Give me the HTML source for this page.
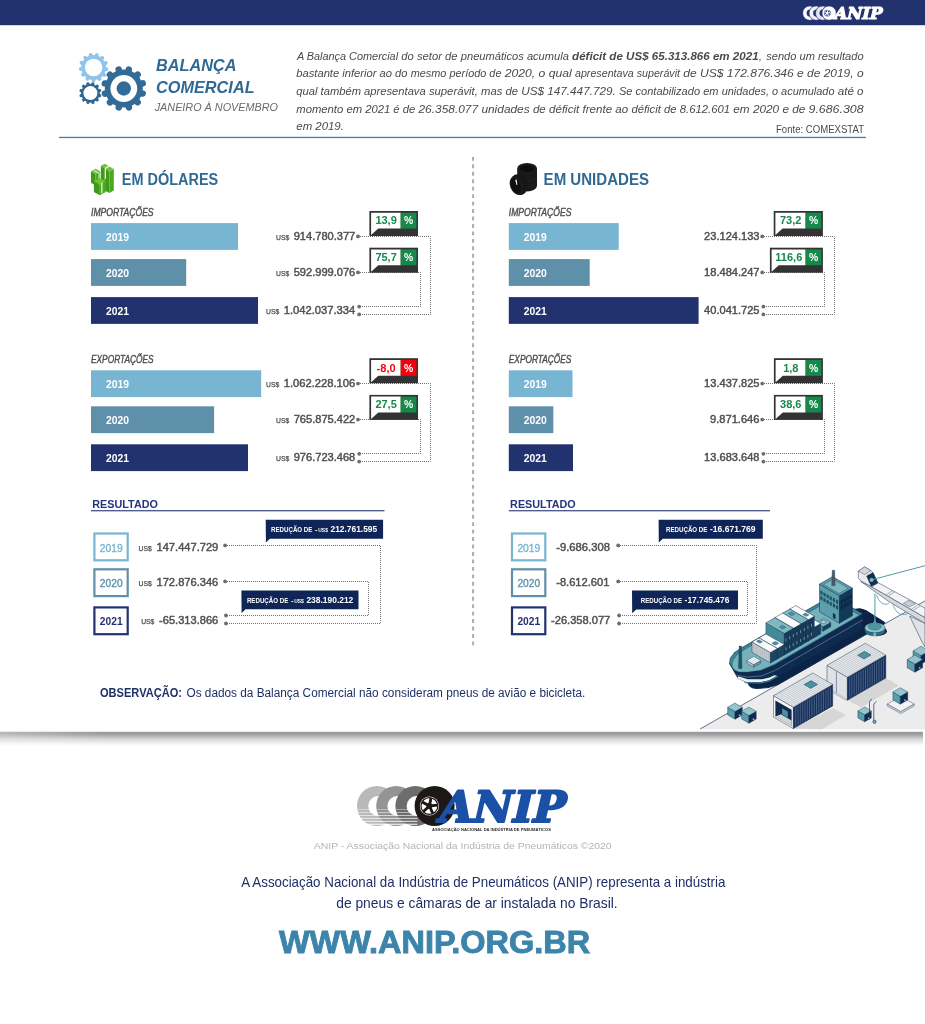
<!DOCTYPE html>
<html lang="pt-BR"><head><meta charset="utf-8"><title>ANIP - Balança Comercial</title>
<style>
html,body{margin:0;padding:0;background:#fff;}
body{width:925px;height:1024px;overflow:hidden;position:relative;font-family:'Liberation Sans', sans-serif;}
svg{position:absolute;left:0;top:0;display:block;font-family:'Liberation Sans', sans-serif;}
svg text{white-space:pre;}
</style></head><body>
<svg width="925" height="1024" viewBox="0 0 925 1024">
<rect x="0" y="0" width="925" height="25.2" fill="#22326e"/>
<g id="gears">
<circle cx="93.6" cy="67.5" r="12.4" fill="#90c4ea"/>
<path d="M104.90,68.98L106.35,69.17M102.92,74.06L104.12,74.90M98.81,77.64L99.47,78.94M93.50,78.90L93.48,80.36M88.21,77.55L87.52,78.83M84.16,73.89L82.95,74.71M82.27,68.77L80.82,68.93M82.98,63.36L81.62,62.83M86.12,58.90L85.16,57.79M90.97,56.41L90.64,54.98M96.43,56.46L96.79,55.04M101.24,59.04L102.22,57.95M104.30,63.56L105.67,63.05" fill="none" stroke="#90c4ea" stroke-width="3.90" stroke-linecap="round"/>
<circle cx="93.6" cy="67.5" r="8.7" fill="#fff"/>
<circle cx="90.4" cy="93.1" r="9.4" fill="#2f6791"/>
<path d="M98.52,95.26L99.73,95.58M96.35,99.03L97.24,99.91M92.59,101.21L92.92,102.42M88.24,101.22L87.92,102.43M84.47,99.05L83.59,99.94M82.29,95.29L81.08,95.62M82.28,90.94L81.07,90.62M84.45,87.17L83.56,86.29M88.21,84.99L87.88,83.78M92.56,84.98L92.88,83.77M96.33,87.15L97.21,86.26M98.51,90.91L99.72,90.58" fill="none" stroke="#2f6791" stroke-width="3.20" stroke-linecap="round"/>
<circle cx="90.4" cy="93.1" r="7.0" fill="#fff"/>
<circle cx="123.8" cy="88.5" r="19.0" fill="#336b96"/>
<path d="M141.20,93.13L142.72,93.53M136.55,101.20L137.67,102.32M128.49,105.88L128.90,107.40M119.17,105.90L118.77,107.42M111.10,101.25L109.98,102.37M106.42,93.19L104.90,93.60M106.40,83.87L104.88,83.47M111.05,75.80L109.93,74.68M119.11,71.12L118.70,69.60M128.43,71.10L128.83,69.58M136.50,75.75L137.62,74.63M141.18,83.81L142.70,83.40" fill="none" stroke="#336b96" stroke-width="6.49" stroke-linecap="round"/>
<circle cx="123.8" cy="88.5" r="13.4" fill="#fff"/>
<circle cx="123.8" cy="88.5" r="7.2" fill="#336b96"/>
</g>
<text x="156" y="71.2" font-size="16.5" fill="#2f6a96" font-weight="bold" font-style="italic" textLength="80.4" lengthAdjust="spacingAndGlyphs">BALANÇA</text>
<text x="156" y="92.7" font-size="16.5" fill="#2f6a96" font-weight="bold" font-style="italic" textLength="98.6" lengthAdjust="spacingAndGlyphs">COMERCIAL</text>
<text x="154.7" y="110.6" font-size="11.4" fill="#6a6a6a" font-style="italic" textLength="123.3" lengthAdjust="spacingAndGlyphs">JANEIRO À NOVEMBRO</text>
<g id="intro" font-style="italic">
<text x="296.9" y="59.6" font-size="11.4" fill="#4a4a4a" font-style="italic" textLength="101.2" lengthAdjust="spacingAndGlyphs">A Balança Comercial</text>
<text x="401.3" y="59.6" font-size="11.4" fill="#4a4a4a" font-style="italic" textLength="56.3" lengthAdjust="spacingAndGlyphs">do setor de</text>
<text x="460.8" y="59.6" font-size="11.4" fill="#4a4a4a" font-style="italic" textLength="108.1" lengthAdjust="spacingAndGlyphs">pneumáticos acumula</text>
<text x="572.1" y="59.6" font-size="11.4" fill="#4a4a4a" font-weight="bold" font-style="italic" textLength="186.5" lengthAdjust="spacingAndGlyphs">déficit de US$ 65.313.866 em 2021</text>
<text x="758.9" y="59.6" font-size="11.4" fill="#4a4a4a" font-style="italic" textLength="2.8" lengthAdjust="spacingAndGlyphs">,</text>
<text x="766.2" y="59.6" font-size="11.4" fill="#4a4a4a" font-style="italic" textLength="97.4" lengthAdjust="spacingAndGlyphs">sendo um resultado</text>
<text x="296.3" y="77.28" font-size="11.4" fill="#4a4a4a" font-style="italic" textLength="111.2" lengthAdjust="spacingAndGlyphs">bastante inferior ao do</text>
<text x="410.7" y="77.28" font-size="11.4" fill="#4a4a4a" font-style="italic" textLength="90.8" lengthAdjust="spacingAndGlyphs">mesmo período de</text>
<text x="504.7" y="77.28" font-size="11.4" fill="#4a4a4a" font-style="italic" textLength="67.1" lengthAdjust="spacingAndGlyphs">2020, o qual</text>
<text x="575.0" y="77.28" font-size="11.4" fill="#4a4a4a" font-style="italic" textLength="105.0" lengthAdjust="spacingAndGlyphs">apresentava superávit</text>
<text x="683.2" y="77.28" font-size="11.4" fill="#4a4a4a" font-style="italic" textLength="110.6" lengthAdjust="spacingAndGlyphs">de US$ 172.876.346</text>
<text x="797.0" y="77.28" font-size="11.4" fill="#4a4a4a" font-style="italic" textLength="66.6" lengthAdjust="spacingAndGlyphs">e de 2019, o</text>
<text x="296.3" y="94.96" font-size="11.4" fill="#4a4a4a" font-style="italic" textLength="129.4" lengthAdjust="spacingAndGlyphs">qual também apresentava</text>
<text x="428.9" y="94.96" font-size="11.4" fill="#4a4a4a" font-style="italic" textLength="89.2" lengthAdjust="spacingAndGlyphs">superávit, mas de</text>
<text x="521.3" y="94.96" font-size="11.4" fill="#4a4a4a" font-style="italic" textLength="94.4" lengthAdjust="spacingAndGlyphs">US$ 147.447.729.</text>
<text x="618.9" y="94.96" font-size="11.4" fill="#4a4a4a" font-style="italic" textLength="99.6" lengthAdjust="spacingAndGlyphs">Se contabilizado em</text>
<text x="721.7" y="94.96" font-size="11.4" fill="#4a4a4a" font-style="italic" textLength="112.8" lengthAdjust="spacingAndGlyphs">unidades, o acumulado</text>
<text x="837.7" y="94.96" font-size="11.4" fill="#4a4a4a" font-style="italic" textLength="25.9" lengthAdjust="spacingAndGlyphs">até o</text>
<text x="296.3" y="112.64" font-size="11.4" fill="#4a4a4a" font-style="italic" textLength="119.0" lengthAdjust="spacingAndGlyphs">momento em 2021 é de</text>
<text x="418.5" y="112.64" font-size="11.4" fill="#4a4a4a" font-style="italic" textLength="111.2" lengthAdjust="spacingAndGlyphs">26.358.077 unidades</text>
<text x="532.9" y="112.64" font-size="11.4" fill="#4a4a4a" font-style="italic" textLength="95.3" lengthAdjust="spacingAndGlyphs">de déficit frente ao</text>
<text x="631.4" y="112.64" font-size="11.4" fill="#4a4a4a" font-style="italic" textLength="98.7" lengthAdjust="spacingAndGlyphs">déficit de 8.612.601</text>
<text x="733.3" y="112.64" font-size="11.4" fill="#4a4a4a" font-style="italic" textLength="72.0" lengthAdjust="spacingAndGlyphs">em 2020 e de</text>
<text x="808.5" y="112.64" font-size="11.4" fill="#4a4a4a" font-style="italic" textLength="55.1" lengthAdjust="spacingAndGlyphs">9.686.308</text>
<text x="296.3" y="130.32" font-size="11.4" fill="#4a4a4a" font-style="italic" textLength="47.6" lengthAdjust="spacingAndGlyphs">em 2019.</text>
</g>
<text x="776" y="133.2" font-size="10" fill="#4a4a4a" textLength="88" lengthAdjust="spacingAndGlyphs">Fonte: COMEXSTAT</text>
<rect x="59" y="136.8" width="807" height="1.3" fill="#3d7eb3"/>
<line x1="473.1" y1="156.9" x2="473.1" y2="645.2" stroke="#ababab" stroke-width="2" stroke-dasharray="3.9 3.555"/>
<text x="121.8" y="185.3" font-size="16" fill="#2f6a96" font-weight="bold" textLength="96.4" lengthAdjust="spacingAndGlyphs">EM DÓLARES</text>
<text x="91" y="215.6" font-size="10" fill="#4f4f4f" font-style="italic" textLength="62.6" lengthAdjust="spacingAndGlyphs" stroke="#4f4f4f" stroke-width="0.4">IMPORTAÇÕES</text>
<rect x="91" y="223.1" width="147" height="26.8" fill="#77b5d3"/>
<text x="106" y="241.0" font-size="10" fill="#fff" font-weight="bold" textLength="23" lengthAdjust="spacingAndGlyphs">2019</text>
<rect x="91" y="259.1" width="95.2" height="26.8" fill="#5f90a9"/>
<text x="106" y="277.0" font-size="10" fill="#fff" font-weight="bold" textLength="23" lengthAdjust="spacingAndGlyphs">2020</text>
<rect x="91" y="297.1" width="167" height="26.8" fill="#22326e"/>
<text x="106" y="315.0" font-size="10" fill="#fff" font-weight="bold" textLength="23" lengthAdjust="spacingAndGlyphs">2021</text>
<text x="293.7" y="240.1" font-size="10.8" fill="#505050" textLength="61.6" lengthAdjust="spacingAndGlyphs" stroke="#505050" stroke-width="0.45">914.780.377</text>
<text x="276" y="240.1" font-size="7.4" fill="#505050" textLength="13.2" lengthAdjust="spacingAndGlyphs" stroke="#505050" stroke-width="0.25">US$</text>
<text x="293.7" y="275.9" font-size="10.8" fill="#505050" textLength="61.6" lengthAdjust="spacingAndGlyphs" stroke="#505050" stroke-width="0.45">592.999.076</text>
<text x="276" y="275.9" font-size="7.4" fill="#505050" textLength="13.2" lengthAdjust="spacingAndGlyphs" stroke="#505050" stroke-width="0.25">US$</text>
<text x="283.7" y="313.7" font-size="10.8" fill="#505050" textLength="71.6" lengthAdjust="spacingAndGlyphs" stroke="#505050" stroke-width="0.45">1.042.037.334</text>
<text x="266" y="313.7" font-size="7.4" fill="#505050" textLength="13.2" lengthAdjust="spacingAndGlyphs" stroke="#505050" stroke-width="0.25">US$</text>
<path d="M358,236.5 H430.5 V314.5 H359.5" fill="none" stroke="#6f6f6f" stroke-width="1" stroke-dasharray="1 1"/>
<path d="M358,272.5 H420.5 V306.5 H359.5" fill="none" stroke="#6f6f6f" stroke-width="1" stroke-dasharray="1 1"/>
<circle cx="358" cy="236.4" r="1.9" fill="#6b6b6b"/>
<circle cx="358" cy="272.4" r="1.9" fill="#6b6b6b"/>
<circle cx="359.2" cy="306.6" r="1.9" fill="#6b6b6b"/>
<circle cx="359.2" cy="314.4" r="1.9" fill="#6b6b6b"/>
<rect x="369.4" y="211.0" width="48.6" height="25.0" fill="#333333"/>
<path d="M371.09999999999997,212.7 H400.7 V228.6 H378.29999999999995 L371.09999999999997,235.0 Z" fill="#fff"/>
<rect x="400.7" y="212.7" width="15.8" height="15.9" fill="#16884a"/>
<text x="386.1" y="224.4" font-size="11" fill="#16884a" font-weight="bold" text-anchor="middle">13,9</text>
<text x="404.0" y="224.4" font-size="10.5" fill="#fff" font-weight="bold" textLength="9.2" lengthAdjust="spacingAndGlyphs">%</text>
<rect x="369.4" y="247.7" width="48.6" height="25.0" fill="#333333"/>
<path d="M371.09999999999997,249.39999999999998 H400.7 V265.3 H378.29999999999995 L371.09999999999997,271.7 Z" fill="#fff"/>
<rect x="400.7" y="249.39999999999998" width="15.8" height="15.9" fill="#16884a"/>
<text x="386.1" y="261.1" font-size="11" fill="#16884a" font-weight="bold" text-anchor="middle">75,7</text>
<text x="404.0" y="261.1" font-size="10.5" fill="#fff" font-weight="bold" textLength="9.2" lengthAdjust="spacingAndGlyphs">%</text>
<text x="91" y="362.8" font-size="10" fill="#4f4f4f" font-style="italic" textLength="62.6" lengthAdjust="spacingAndGlyphs" stroke="#4f4f4f" stroke-width="0.4">EXPORTAÇÕES</text>
<rect x="91" y="370.3" width="170.2" height="26.8" fill="#77b5d3"/>
<text x="106" y="388.2" font-size="10" fill="#fff" font-weight="bold" textLength="23" lengthAdjust="spacingAndGlyphs">2019</text>
<rect x="91" y="406.3" width="123.1" height="26.8" fill="#5f90a9"/>
<text x="106" y="424.2" font-size="10" fill="#fff" font-weight="bold" textLength="23" lengthAdjust="spacingAndGlyphs">2020</text>
<rect x="91" y="444.3" width="157" height="26.8" fill="#22326e"/>
<text x="106" y="462.2" font-size="10" fill="#fff" font-weight="bold" textLength="23" lengthAdjust="spacingAndGlyphs">2021</text>
<text x="283.7" y="387.3" font-size="10.8" fill="#505050" textLength="71.6" lengthAdjust="spacingAndGlyphs" stroke="#505050" stroke-width="0.45">1.062.228.106</text>
<text x="266" y="387.3" font-size="7.4" fill="#505050" textLength="13.2" lengthAdjust="spacingAndGlyphs" stroke="#505050" stroke-width="0.25">US$</text>
<text x="293.7" y="423.1" font-size="10.8" fill="#505050" textLength="61.6" lengthAdjust="spacingAndGlyphs" stroke="#505050" stroke-width="0.45">765.875.422</text>
<text x="276" y="423.1" font-size="7.4" fill="#505050" textLength="13.2" lengthAdjust="spacingAndGlyphs" stroke="#505050" stroke-width="0.25">US$</text>
<text x="293.7" y="460.9" font-size="10.8" fill="#505050" textLength="61.6" lengthAdjust="spacingAndGlyphs" stroke="#505050" stroke-width="0.45">976.723.468</text>
<text x="276" y="460.9" font-size="7.4" fill="#505050" textLength="13.2" lengthAdjust="spacingAndGlyphs" stroke="#505050" stroke-width="0.25">US$</text>
<path d="M358,383.5 H430.5 V461.5 H359.5" fill="none" stroke="#6f6f6f" stroke-width="1" stroke-dasharray="1 1"/>
<path d="M358,419.5 H420.5 V453.5 H359.5" fill="none" stroke="#6f6f6f" stroke-width="1" stroke-dasharray="1 1"/>
<circle cx="358" cy="383.6" r="1.9" fill="#6b6b6b"/>
<circle cx="358" cy="419.6" r="1.9" fill="#6b6b6b"/>
<circle cx="359.2" cy="453.8" r="1.9" fill="#6b6b6b"/>
<circle cx="359.2" cy="461.6" r="1.9" fill="#6b6b6b"/>
<rect x="369.4" y="358.2" width="48.6" height="25.0" fill="#333333"/>
<path d="M371.09999999999997,359.9 H400.7 V375.8 H378.29999999999995 L371.09999999999997,382.2 Z" fill="#fff"/>
<rect x="400.7" y="359.9" width="15.8" height="15.9" fill="#f6000e"/>
<text x="386.1" y="371.6" font-size="11" fill="#f6000e" font-weight="bold" text-anchor="middle">-8,0</text>
<text x="404.0" y="371.6" font-size="10.5" fill="#fff" font-weight="bold" textLength="9.2" lengthAdjust="spacingAndGlyphs">%</text>
<rect x="369.4" y="394.9" width="48.6" height="25.0" fill="#333333"/>
<path d="M371.09999999999997,396.59999999999997 H400.7 V412.5 H378.29999999999995 L371.09999999999997,418.9 Z" fill="#fff"/>
<rect x="400.7" y="396.59999999999997" width="15.8" height="15.9" fill="#16884a"/>
<text x="386.1" y="408.3" font-size="11" fill="#16884a" font-weight="bold" text-anchor="middle">27,5</text>
<text x="404.0" y="408.3" font-size="10.5" fill="#fff" font-weight="bold" textLength="9.2" lengthAdjust="spacingAndGlyphs">%</text>
<text x="543.6" y="185.3" font-size="16" fill="#2f6a96" font-weight="bold" textLength="105.4" lengthAdjust="spacingAndGlyphs">EM UNIDADES</text>
<text x="508.8" y="215.6" font-size="10" fill="#4f4f4f" font-style="italic" textLength="62.6" lengthAdjust="spacingAndGlyphs" stroke="#4f4f4f" stroke-width="0.4">IMPORTAÇÕES</text>
<rect x="508.8" y="223.1" width="109.9" height="26.8" fill="#77b5d3"/>
<text x="523.8" y="241.0" font-size="10" fill="#fff" font-weight="bold" textLength="23" lengthAdjust="spacingAndGlyphs">2019</text>
<rect x="508.8" y="259.1" width="80.9" height="26.8" fill="#5f90a9"/>
<text x="523.8" y="277.0" font-size="10" fill="#fff" font-weight="bold" textLength="23" lengthAdjust="spacingAndGlyphs">2020</text>
<rect x="508.8" y="297.1" width="189.8" height="26.8" fill="#22326e"/>
<text x="523.8" y="315.0" font-size="10" fill="#fff" font-weight="bold" textLength="23" lengthAdjust="spacingAndGlyphs">2021</text>
<text x="704.1" y="240.1" font-size="10.8" fill="#505050" textLength="55.4" lengthAdjust="spacingAndGlyphs" stroke="#505050" stroke-width="0.45">23.124.133</text>
<text x="704.1" y="275.9" font-size="10.8" fill="#505050" textLength="55.4" lengthAdjust="spacingAndGlyphs" stroke="#505050" stroke-width="0.45">18.484.247</text>
<text x="704.1" y="313.7" font-size="10.8" fill="#505050" textLength="55.4" lengthAdjust="spacingAndGlyphs" stroke="#505050" stroke-width="0.45">40.041.725</text>
<path d="M762,236.5 H834.5 V314.5 H763.5" fill="none" stroke="#6f6f6f" stroke-width="1" stroke-dasharray="1 1"/>
<path d="M762,272.5 H824.5 V306.5 H763.5" fill="none" stroke="#6f6f6f" stroke-width="1" stroke-dasharray="1 1"/>
<circle cx="762.2" cy="236.4" r="1.9" fill="#6b6b6b"/>
<circle cx="762.2" cy="272.4" r="1.9" fill="#6b6b6b"/>
<circle cx="763.4000000000001" cy="306.6" r="1.9" fill="#6b6b6b"/>
<circle cx="763.4000000000001" cy="314.4" r="1.9" fill="#6b6b6b"/>
<rect x="773.7" y="211.0" width="49.2" height="25.0" fill="#333333"/>
<path d="M775.4000000000001,212.7 H805.6 V228.6 H782.6 L775.4000000000001,235.0 Z" fill="#fff"/>
<rect x="805.6" y="212.7" width="15.8" height="15.9" fill="#16884a"/>
<text x="790.7" y="224.4" font-size="11" fill="#16884a" font-weight="bold" text-anchor="middle">73,2</text>
<text x="808.9" y="224.4" font-size="10.5" fill="#fff" font-weight="bold" textLength="9.2" lengthAdjust="spacingAndGlyphs">%</text>
<rect x="769.9" y="247.7" width="53.0" height="25.0" fill="#333333"/>
<path d="M771.6,249.39999999999998 H805.6 V265.3 H778.8 L771.6,271.7 Z" fill="#fff"/>
<rect x="805.6" y="249.39999999999998" width="15.8" height="15.9" fill="#16884a"/>
<text x="788.8" y="261.1" font-size="11" fill="#16884a" font-weight="bold" text-anchor="middle">116,6</text>
<text x="808.9" y="261.1" font-size="10.5" fill="#fff" font-weight="bold" textLength="9.2" lengthAdjust="spacingAndGlyphs">%</text>
<text x="508.8" y="362.8" font-size="10" fill="#4f4f4f" font-style="italic" textLength="62.6" lengthAdjust="spacingAndGlyphs" stroke="#4f4f4f" stroke-width="0.4">EXPORTAÇÕES</text>
<rect x="508.8" y="370.3" width="63.7" height="26.8" fill="#77b5d3"/>
<text x="523.8" y="388.2" font-size="10" fill="#fff" font-weight="bold" textLength="23" lengthAdjust="spacingAndGlyphs">2019</text>
<rect x="508.8" y="406.3" width="44.5" height="26.8" fill="#5f90a9"/>
<text x="523.8" y="424.2" font-size="10" fill="#fff" font-weight="bold" textLength="23" lengthAdjust="spacingAndGlyphs">2020</text>
<rect x="508.8" y="444.3" width="64.2" height="26.8" fill="#22326e"/>
<text x="523.8" y="462.2" font-size="10" fill="#fff" font-weight="bold" textLength="23" lengthAdjust="spacingAndGlyphs">2021</text>
<text x="704.1" y="387.3" font-size="10.8" fill="#505050" textLength="55.4" lengthAdjust="spacingAndGlyphs" stroke="#505050" stroke-width="0.45">13.437.825</text>
<text x="710.0" y="423.1" font-size="10.8" fill="#505050" textLength="49.5" lengthAdjust="spacingAndGlyphs" stroke="#505050" stroke-width="0.45">9.871.646</text>
<text x="704.1" y="460.9" font-size="10.8" fill="#505050" textLength="55.4" lengthAdjust="spacingAndGlyphs" stroke="#505050" stroke-width="0.45">13.683.648</text>
<path d="M762,383.5 H834.5 V461.5 H763.5" fill="none" stroke="#6f6f6f" stroke-width="1" stroke-dasharray="1 1"/>
<path d="M762,419.5 H824.5 V453.5 H763.5" fill="none" stroke="#6f6f6f" stroke-width="1" stroke-dasharray="1 1"/>
<circle cx="762.2" cy="383.6" r="1.9" fill="#6b6b6b"/>
<circle cx="762.2" cy="419.6" r="1.9" fill="#6b6b6b"/>
<circle cx="763.4000000000001" cy="453.8" r="1.9" fill="#6b6b6b"/>
<circle cx="763.4000000000001" cy="461.6" r="1.9" fill="#6b6b6b"/>
<rect x="773.9" y="358.2" width="49.0" height="25.0" fill="#333333"/>
<path d="M775.6,359.9 H805.6 V375.8 H782.8 L775.6,382.2 Z" fill="#fff"/>
<rect x="805.6" y="359.9" width="15.8" height="15.9" fill="#16884a"/>
<text x="790.8" y="371.6" font-size="11" fill="#16884a" font-weight="bold" text-anchor="middle">1,8</text>
<text x="808.9" y="371.6" font-size="10.5" fill="#fff" font-weight="bold" textLength="9.2" lengthAdjust="spacingAndGlyphs">%</text>
<rect x="773.9" y="394.9" width="49.0" height="25.0" fill="#333333"/>
<path d="M775.6,396.59999999999997 H805.6 V412.5 H782.8 L775.6,418.9 Z" fill="#fff"/>
<rect x="805.6" y="396.59999999999997" width="15.8" height="15.9" fill="#16884a"/>
<text x="790.8" y="408.3" font-size="11" fill="#16884a" font-weight="bold" text-anchor="middle">38,6</text>
<text x="808.9" y="408.3" font-size="10.5" fill="#fff" font-weight="bold" textLength="9.2" lengthAdjust="spacingAndGlyphs">%</text>
<text x="92.3" y="507.8" font-size="11.5" fill="#25357a" font-weight="bold" textLength="65.6" lengthAdjust="spacingAndGlyphs">RESULTADO</text>
<rect x="91" y="510.2" width="293.5" height="1.1" fill="#25357a"/>
<rect x="94.39999999999999" y="533.5" width="33.3" height="26.8" fill="#fff" stroke="#77b5d3" stroke-width="2.2"/>
<text x="99.8" y="551.5" font-size="10.6" fill="#77b5d3" textLength="22.8" lengthAdjust="spacingAndGlyphs" stroke="#77b5d3" stroke-width="0.35">2019</text>
<rect x="94.39999999999999" y="569.3000000000001" width="33.3" height="26.8" fill="#fff" stroke="#5f90a9" stroke-width="2.2"/>
<text x="99.8" y="587.3" font-size="10.6" fill="#5f90a9" textLength="22.8" lengthAdjust="spacingAndGlyphs" stroke="#5f90a9" stroke-width="0.35">2020</text>
<rect x="94.39999999999999" y="607.4" width="33.3" height="26.8" fill="#fff" stroke="#22326e" stroke-width="2.2"/>
<text x="99.8" y="625.4" font-size="10.6" fill="#22326e" font-weight="bold" textLength="22.8" lengthAdjust="spacingAndGlyphs">2021</text>
<text x="156.5" y="550.5" font-size="10.8" fill="#505050" textLength="61.8" lengthAdjust="spacingAndGlyphs" stroke="#505050" stroke-width="0.45">147.447.729</text>
<text x="138.6" y="550.5" font-size="7.4" fill="#505050" textLength="13.2" lengthAdjust="spacingAndGlyphs" stroke="#505050" stroke-width="0.25">US$</text>
<text x="156.5" y="586.3" font-size="10.8" fill="#505050" textLength="61.8" lengthAdjust="spacingAndGlyphs" stroke="#505050" stroke-width="0.45">172.876.346</text>
<text x="138.6" y="586.3" font-size="7.4" fill="#505050" textLength="13.2" lengthAdjust="spacingAndGlyphs" stroke="#505050" stroke-width="0.25">US$</text>
<text x="159.0" y="624.0" font-size="10.8" fill="#505050" textLength="59.3" lengthAdjust="spacingAndGlyphs" stroke="#505050" stroke-width="0.45">-65.313.866</text>
<text x="141.2" y="624.0" font-size="7.4" fill="#505050" textLength="13.2" lengthAdjust="spacingAndGlyphs" stroke="#505050" stroke-width="0.25">US$</text>
<path d="M225,545.5 H380.5 V623.5 H226.5" fill="none" stroke="#6f6f6f" stroke-width="1" stroke-dasharray="1 1"/>
<path d="M225,581.5 H368.5 V615.5 H226.5" fill="none" stroke="#6f6f6f" stroke-width="1" stroke-dasharray="1 1"/>
<circle cx="225.1" cy="545.4" r="1.9" fill="#6b6b6b"/>
<circle cx="225.1" cy="581.4" r="1.9" fill="#6b6b6b"/>
<circle cx="226.0" cy="615.5" r="1.9" fill="#6b6b6b"/>
<circle cx="226.0" cy="623.5" r="1.9" fill="#6b6b6b"/>
<path d="M265.7,519.8 H383.1 V538.6999999999999 H269.9 L265.9,542.4 Z" fill="#0f2557"/>
<text x="271" y="532.0" font-size="7.4" fill="#fff" font-weight="bold" textLength="41.4" lengthAdjust="spacingAndGlyphs">REDUÇÃO DE</text>
<text x="315.0" y="532.0" font-size="7.4" fill="#fff" font-weight="bold">-</text>
<text x="318.3" y="532.0" font-size="5.4" fill="#fff" font-weight="bold" textLength="9.6" lengthAdjust="spacingAndGlyphs">US$</text>
<text x="330.5" y="532.0" font-size="8.8" fill="#fff" font-weight="bold" textLength="46.7" lengthAdjust="spacingAndGlyphs">212.761.595</text>
<path d="M241.4,590.4 H358.5 V609.3 H245.6 L241.6,613.0 Z" fill="#0f2557"/>
<text x="246.9" y="602.6" font-size="7.4" fill="#fff" font-weight="bold" textLength="41.4" lengthAdjust="spacingAndGlyphs">REDUÇÃO DE</text>
<text x="290.9" y="602.6" font-size="7.4" fill="#fff" font-weight="bold">-</text>
<text x="294.2" y="602.6" font-size="5.4" fill="#fff" font-weight="bold" textLength="9.6" lengthAdjust="spacingAndGlyphs">US$</text>
<text x="306.4" y="602.6" font-size="8.8" fill="#fff" font-weight="bold" textLength="46.9" lengthAdjust="spacingAndGlyphs">238.190.212</text>
<text x="510.1" y="507.8" font-size="11.5" fill="#25357a" font-weight="bold" textLength="65.6" lengthAdjust="spacingAndGlyphs">RESULTADO</text>
<rect x="508.8" y="510.2" width="261.2" height="1.1" fill="#25357a"/>
<rect x="512.0" y="533.5" width="33.3" height="26.8" fill="#fff" stroke="#77b5d3" stroke-width="2.2"/>
<text x="517.4" y="551.5" font-size="10.6" fill="#77b5d3" textLength="22.8" lengthAdjust="spacingAndGlyphs" stroke="#77b5d3" stroke-width="0.35">2019</text>
<rect x="512.0" y="569.3000000000001" width="33.3" height="26.8" fill="#fff" stroke="#5f90a9" stroke-width="2.2"/>
<text x="517.4" y="587.3" font-size="10.6" fill="#5f90a9" textLength="22.8" lengthAdjust="spacingAndGlyphs" stroke="#5f90a9" stroke-width="0.35">2020</text>
<rect x="512.0" y="607.4" width="33.3" height="26.8" fill="#fff" stroke="#22326e" stroke-width="2.2"/>
<text x="517.4" y="625.4" font-size="10.6" fill="#22326e" font-weight="bold" textLength="22.8" lengthAdjust="spacingAndGlyphs">2021</text>
<text x="556.2" y="550.5" font-size="10.8" fill="#505050" textLength="53.7" lengthAdjust="spacingAndGlyphs" stroke="#505050" stroke-width="0.45">-9.686.308</text>
<text x="556.2" y="586.3" font-size="10.8" fill="#505050" textLength="53.2" lengthAdjust="spacingAndGlyphs" stroke="#505050" stroke-width="0.45">-8.612.601</text>
<text x="551.0" y="624.0" font-size="10.8" fill="#505050" textLength="59.3" lengthAdjust="spacingAndGlyphs" stroke="#505050" stroke-width="0.45">-26.358.077</text>
<path d="M618,545.5 H756.5 V623.5 H619.5" fill="none" stroke="#6f6f6f" stroke-width="1" stroke-dasharray="1 1"/>
<path d="M618,581.5 H747.5 V615.5 H619.5" fill="none" stroke="#6f6f6f" stroke-width="1" stroke-dasharray="1 1"/>
<circle cx="618.2" cy="545.4" r="1.9" fill="#6b6b6b"/>
<circle cx="618.2" cy="581.4" r="1.9" fill="#6b6b6b"/>
<circle cx="619.1" cy="615.5" r="1.9" fill="#6b6b6b"/>
<circle cx="619.1" cy="623.5" r="1.9" fill="#6b6b6b"/>
<path d="M658.6,519.8 H762.8 V538.6999999999999 H662.8000000000001 L658.8000000000001,542.4 Z" fill="#0f2557"/>
<text x="666" y="532.0" font-size="7.4" fill="#fff" font-weight="bold" textLength="41.4" lengthAdjust="spacingAndGlyphs">REDUÇÃO DE</text>
<text x="710.0" y="532.0" font-size="8.8" fill="#fff" font-weight="bold" textLength="45.6" lengthAdjust="spacingAndGlyphs">-16.671.769</text>
<path d="M632.0,590.6 H738.0 V609.5 H636.2 L632.2,613.2 Z" fill="#0f2557"/>
<text x="640.7" y="602.8" font-size="7.4" fill="#fff" font-weight="bold" textLength="41.4" lengthAdjust="spacingAndGlyphs">REDUÇÃO DE</text>
<text x="684.6" y="602.8" font-size="8.8" fill="#fff" font-weight="bold" textLength="44.7" lengthAdjust="spacingAndGlyphs">-17.745.476</text>
<text x="100" y="697.3" font-size="12" fill="#1f2f68" font-weight="bold" textLength="82" lengthAdjust="spacingAndGlyphs">OBSERVAÇÃO:</text>
<text x="186.5" y="697.3" font-size="12" fill="#1f2f68" textLength="398.8" lengthAdjust="spacingAndGlyphs">Os dados da Balança Comercial não consideram pneus de avião e bicicleta.</text>
<g id="porto">
<polygon points="700.2,728.9 925.0,600.9 925.0,729.4 700.2,729.4" fill="#ececec"/>
<line x1="700.2" y1="728.9" x2="925" y2="600.9" stroke="#223a5e" stroke-width="0.7"/>
<path d="M746.5,679.5 L749.5,686 Q752,688.6 757,688.4 L768,687.6 L778,684.5 L884.6,623.5 L884.9,622.6 L866,610.6 Q860,607.6 855.6,609.2 L852,612 L780,672 Z" fill="#0b2346" stroke="#0b2346" stroke-width="1" stroke-linejoin="round"/>
<polygon points="862.8,613.8 775.4,664.3 761.5,670.0 747.7,671.1 737.7,669.8 732.5,667.4 729.5,663.4 737.7,678.0 748.5,683.3 761.5,683.3 774.1,678.9 861.5,629.5" fill="#0f2a4f" stroke="#0f2a4f" stroke-width="0.6" stroke-linejoin="round"/>
<polygon points="738.1,676.3 747.7,679.3 761.5,679.3 769.5,677.4 774.3,675.3 776.9,675.7 769.1,680.3 760.8,682.1 746.8,682.3 737.3,678.3" fill="#eef1f2"/>
<polygon points="743.8,682.2 760.8,682.3 769.1,680.5 776.9,675.9 778.6,676.4 768.8,681.7 760.3,683.6 745.5,683.3" fill="#3d7f8e"/>
<polyline points="736.6,675.2 747.7,677.1 761.8,675.8 775.4,670.3 862.8,619.8" fill="none" stroke="#8fa9bd" stroke-width="0.5"/>
<polygon points="831.7,595.8 862.8,613.8 775.4,664.3 761.5,670.0 747.7,671.1 737.7,669.8 732.5,667.4 729.5,663.4 730.4,657.9 734.7,652.3 744.2,646.3" fill="#3f8593" stroke="#0f2a4f" stroke-width="0.6" stroke-linejoin="round"/>
<polygon points="831.7,599.2 859.4,615.2 773.6,664.7 760.7,670.2 747.8,672.1 739.2,672.1 734.6,670.2 732.1,666.7 732.7,661.0 736.8,654.9 745.9,648.7" fill="#74b3bb" stroke="#1d5565" stroke-width="0.4" stroke-linejoin="round"/>
<polygon points="738.5,668.6 742.0,668.6 741.5,646.1 739.2,646.1" fill="#1f5566" stroke="#0f2a4f" stroke-width="0.3" stroke-linejoin="round"/>
<polygon points="753.7,667.2 746.8,663.2 746.8,660.6 753.7,664.6" fill="#b9c3c8" stroke="#0f2a4f" stroke-width="0.35" stroke-linejoin="round"/>
<polygon points="753.7,667.2 760.7,663.2 760.7,660.6 753.7,664.6" fill="#7d9098" stroke="#0f2a4f" stroke-width="0.35" stroke-linejoin="round"/>
<polygon points="753.7,664.6 760.7,660.6 753.7,656.6 746.8,660.6" fill="#f4f6f6" stroke="#0f2a4f" stroke-width="0.35" stroke-linejoin="round"/>
<line x1="755.5" y1="663.6" x2="748.5" y2="659.6" stroke="#8ea0aa" stroke-width="0.3"/>
<line x1="757.2" y1="662.6" x2="750.3" y2="658.6" stroke="#8ea0aa" stroke-width="0.3"/>
<line x1="758.9" y1="661.6" x2="752.0" y2="657.6" stroke="#8ea0aa" stroke-width="0.3"/>
<polygon points="839.4,623.3 819.5,611.8 819.5,584.1 839.4,595.6" fill="#5c9faa" stroke="#0f2a4f" stroke-width="0.5" stroke-linejoin="round"/>
<polygon points="839.4,623.3 852.4,615.8 852.4,588.1 839.4,595.6" fill="#143857" stroke="#0f2a4f" stroke-width="0.5" stroke-linejoin="round"/>
<polygon points="839.4,595.6 852.4,588.1 832.5,576.6 819.5,584.1" fill="#5da0ab" stroke="#0f2a4f" stroke-width="0.5" stroke-linejoin="round"/>
<polygon points="823.4,584.5 832.8,579.1 848.4,588.1 839.0,593.5" fill="#7db7bf" stroke="#0f2a4f" stroke-width="0.35" stroke-linejoin="round"/>
<polygon points="838.1,600.6 835.9,599.3 835.9,603.0 838.1,604.3" fill="#1d5263"/>
<polygon points="835.0,598.8 832.8,597.5 832.8,601.2 835.0,602.5" fill="#1d5263"/>
<polygon points="831.8,597.0 829.6,595.7 829.6,599.4 831.8,600.7" fill="#1d5263"/>
<polygon points="828.7,595.2 826.5,593.9 826.5,597.6 828.7,598.9" fill="#1d5263"/>
<polygon points="825.6,593.4 823.4,592.1 823.4,595.8 825.6,597.1" fill="#1d5263"/>
<polygon points="822.5,591.6 820.3,590.3 820.3,594.0 822.5,595.3" fill="#1d5263"/>
<polygon points="838.1,606.1 835.9,604.8 835.9,608.5 838.1,609.8" fill="#1d5263"/>
<polygon points="835.0,604.3 832.8,603.0 832.8,606.7 835.0,608.0" fill="#1d5263"/>
<polygon points="831.8,602.5 829.6,601.2 829.6,604.9 831.8,606.2" fill="#1d5263"/>
<polygon points="828.7,600.7 826.5,599.4 826.5,603.1 828.7,604.4" fill="#1d5263"/>
<polygon points="825.6,598.9 823.4,597.6 823.4,601.3 825.6,602.6" fill="#1d5263"/>
<polygon points="822.5,597.1 820.3,595.8 820.3,599.5 822.5,600.8" fill="#1d5263"/>
<polygon points="840.9,600.4 842.9,599.3 842.9,602.9 840.9,604.1" fill="#0b2440"/>
<polygon points="843.9,598.8 845.9,597.6 845.9,601.2 843.9,602.4" fill="#0b2440"/>
<polygon points="846.8,597.0 848.8,595.9 848.8,599.5 846.8,600.7" fill="#0b2440"/>
<polygon points="849.8,595.3 851.8,594.2 851.8,597.8 849.8,599.0" fill="#0b2440"/>
<polygon points="840.9,605.9 842.9,604.8 842.9,608.4 840.9,609.6" fill="#0b2440"/>
<polygon points="843.9,604.2 845.9,603.1 845.9,606.8 843.9,607.9" fill="#0b2440"/>
<polygon points="846.8,602.5 848.8,601.4 848.8,605.0 846.8,606.2" fill="#0b2440"/>
<polygon points="849.8,600.8 851.8,599.7 851.8,603.3 849.8,604.5" fill="#0b2440"/>
<polygon points="835.5,614.6 832.9,613.1 832.9,617.8 835.5,619.3" fill="#123150"/>
<polygon points="831.7,585.6 835.1,585.6 834.6,570.3 832.3,570.3" fill="#4d5d68" stroke="#0f2a4f" stroke-width="0.35" stroke-linejoin="round"/>
<polygon points="823.0,631.3 816.1,627.3 816.1,622.8 823.0,626.8" fill="#4a929f" stroke="#0f2a4f" stroke-width="0.35" stroke-linejoin="round"/>
<polygon points="823.0,631.3 830.8,626.8 830.8,622.3 823.0,626.8" fill="#173f5a" stroke="#0f2a4f" stroke-width="0.35" stroke-linejoin="round"/>
<polygon points="823.0,626.8 830.8,622.3 823.9,618.3 816.1,622.8" fill="#7fb9c0" stroke="#0f2a4f" stroke-width="0.35" stroke-linejoin="round"/>
<ellipse cx="823.4" cy="622.0" rx="2.6" ry="1.5" fill="#b8d6da" stroke="#0f2a4f" stroke-width="0.35"/>
<polygon points="814.6,637.4 804.0,631.3 804.0,620.9 814.6,627.0" fill="#c6ccd0" stroke="#0f2a4f" stroke-width="0.45" stroke-linejoin="round"/>
<polygon points="814.6,637.4 820.7,633.9 820.7,623.5 814.6,627.0" fill="#1b4560" stroke="#0f2a4f" stroke-width="0.45" stroke-linejoin="round"/>
<polygon points="814.6,627.0 820.7,623.5 810.0,617.4 804.0,620.9" fill="#fbfbfb" stroke="#0f2a4f" stroke-width="0.45" stroke-linejoin="round"/>
<line x1="816.1" y1="635.6" x2="816.1" y2="627.4" stroke="#0f2a4f" stroke-width="0.4"/>
<line x1="817.6" y1="634.7" x2="817.6" y2="626.5" stroke="#0f2a4f" stroke-width="0.4"/>
<line x1="819.2" y1="633.8" x2="819.2" y2="625.6" stroke="#0f2a4f" stroke-width="0.4"/>
<polygon points="808.3,641.1 789.8,630.4 789.8,609.0 808.3,619.7" fill="#4a929f" stroke="#0f2a4f" stroke-width="0.45" stroke-linejoin="round"/>
<polygon points="808.3,641.1 814.3,637.6 814.3,616.2 808.3,619.7" fill="#173f5a" stroke="#0f2a4f" stroke-width="0.45" stroke-linejoin="round"/>
<polygon points="808.3,619.7 814.3,616.2 795.8,605.6 789.8,609.0" fill="#fbfbfb" stroke="#0f2a4f" stroke-width="0.45" stroke-linejoin="round"/>
<line x1="810.3" y1="638.9" x2="810.3" y2="619.8" stroke="#0f2a4f" stroke-width="0.45"/>
<line x1="812.3" y1="637.8" x2="812.3" y2="618.6" stroke="#0f2a4f" stroke-width="0.45"/>
<polygon points="802.7,614.6 805.5,612.9 809.0,614.9 806.1,616.6" fill="#4a929f" stroke="#0f2a4f" stroke-width="0.3" stroke-linejoin="round"/>
<polygon points="801.2,645.2 782.7,634.5 782.7,613.1 801.2,623.8" fill="#4a929f" stroke="#0f2a4f" stroke-width="0.45" stroke-linejoin="round"/>
<polygon points="801.2,645.2 808.3,641.1 808.3,619.7 801.2,623.8" fill="#173f5a" stroke="#0f2a4f" stroke-width="0.45" stroke-linejoin="round"/>
<polygon points="801.2,623.8 808.3,619.7 789.8,609.0 782.7,613.1" fill="#7fb9c0" stroke="#0f2a4f" stroke-width="0.45" stroke-linejoin="round"/>
<line x1="803.6" y1="642.8" x2="803.6" y2="623.6" stroke="#0f2a4f" stroke-width="0.45"/>
<line x1="805.9" y1="641.5" x2="805.9" y2="622.3" stroke="#0f2a4f" stroke-width="0.45"/>
<polygon points="788.4,613.8 791.3,612.1 794.8,614.1 791.8,615.8" fill="#4a929f" stroke="#0f2a4f" stroke-width="0.3" stroke-linejoin="round"/>
<polygon points="793.4,649.7 774.9,639.0 774.9,617.6 793.4,628.3" fill="#4a929f" stroke="#0f2a4f" stroke-width="0.45" stroke-linejoin="round"/>
<polygon points="793.4,649.7 801.2,645.2 801.2,623.8 793.4,628.3" fill="#173f5a" stroke="#0f2a4f" stroke-width="0.45" stroke-linejoin="round"/>
<polygon points="793.4,628.3 801.2,623.8 782.7,613.1 774.9,617.6" fill="#fbfbfb" stroke="#0f2a4f" stroke-width="0.45" stroke-linejoin="round"/>
<line x1="796.0" y1="647.2" x2="796.0" y2="628.0" stroke="#0f2a4f" stroke-width="0.45"/>
<line x1="798.6" y1="645.7" x2="798.6" y2="626.5" stroke="#0f2a4f" stroke-width="0.45"/>
<polygon points="784.3,654.9 765.9,644.3 765.9,622.9 784.3,633.5" fill="#4a929f" stroke="#0f2a4f" stroke-width="0.45" stroke-linejoin="round"/>
<polygon points="784.3,654.9 793.4,649.7 793.4,628.3 784.3,633.5" fill="#173f5a" stroke="#0f2a4f" stroke-width="0.45" stroke-linejoin="round"/>
<polygon points="784.3,633.5 793.4,628.3 774.9,617.6 765.9,622.9" fill="#7fb9c0" stroke="#0f2a4f" stroke-width="0.45" stroke-linejoin="round"/>
<line x1="786.6" y1="652.6" x2="786.6" y2="633.4" stroke="#0f2a4f" stroke-width="0.45"/>
<line x1="788.8" y1="651.3" x2="788.8" y2="632.1" stroke="#0f2a4f" stroke-width="0.45"/>
<line x1="791.1" y1="650.0" x2="791.1" y2="630.8" stroke="#0f2a4f" stroke-width="0.45"/>
<line x1="782.3" y1="652.8" x2="782.3" y2="633.6" stroke="#2c6c7b" stroke-width="0.4"/>
<line x1="780.2" y1="651.6" x2="780.2" y2="632.4" stroke="#2c6c7b" stroke-width="0.4"/>
<line x1="778.2" y1="650.4" x2="778.2" y2="631.2" stroke="#2c6c7b" stroke-width="0.4"/>
<line x1="776.1" y1="649.2" x2="776.1" y2="630.0" stroke="#2c6c7b" stroke-width="0.4"/>
<line x1="774.1" y1="648.0" x2="774.1" y2="628.8" stroke="#2c6c7b" stroke-width="0.4"/>
<line x1="772.0" y1="646.8" x2="772.0" y2="627.6" stroke="#2c6c7b" stroke-width="0.4"/>
<line x1="770.0" y1="645.7" x2="770.0" y2="626.5" stroke="#2c6c7b" stroke-width="0.4"/>
<line x1="767.9" y1="644.5" x2="767.9" y2="625.3" stroke="#2c6c7b" stroke-width="0.4"/>
<polygon points="779.3,627.1 782.3,625.3 785.8,627.3 782.7,629.1" fill="#4a929f" stroke="#0f2a4f" stroke-width="0.3" stroke-linejoin="round"/>
<path d="M786.0,638.4 v3 M786.0,647.4 v3" stroke="#dfe9ec" stroke-width="0.45"/>
<path d="M789.7,636.3 v3 M789.7,645.3 v3" stroke="#dfe9ec" stroke-width="0.45"/>
<path d="M793.3,634.2 v3 M793.3,643.2 v3" stroke="#dfe9ec" stroke-width="0.45"/>
<path d="M796.9,632.1 v3 M796.9,641.1 v3" stroke="#dfe9ec" stroke-width="0.45"/>
<path d="M800.6,630.0 v3 M800.6,639.0 v3" stroke="#dfe9ec" stroke-width="0.45"/>
<path d="M804.2,627.9 v3 M804.2,636.9 v3" stroke="#dfe9ec" stroke-width="0.45"/>
<path d="M807.9,625.8 v3 M807.9,634.8 v3" stroke="#dfe9ec" stroke-width="0.45"/>
<path d="M811.5,623.8 v3 M811.5,632.8 v3" stroke="#dfe9ec" stroke-width="0.45"/>
<polygon points="777.4,658.9 758.9,648.3 758.9,637.9 777.4,648.5" fill="#c6ccd0" stroke="#0f2a4f" stroke-width="0.45" stroke-linejoin="round"/>
<polygon points="777.4,658.9 784.3,654.9 784.3,644.5 777.4,648.5" fill="#1b4560" stroke="#0f2a4f" stroke-width="0.45" stroke-linejoin="round"/>
<polygon points="777.4,648.5 784.3,644.5 765.9,633.9 758.9,637.9" fill="#fbfbfb" stroke="#0f2a4f" stroke-width="0.45" stroke-linejoin="round"/>
<polygon points="770.4,662.9 752.0,652.3 752.0,641.9 770.4,652.5" fill="#c6ccd0" stroke="#0f2a4f" stroke-width="0.45" stroke-linejoin="round"/>
<polygon points="770.4,662.9 777.4,658.9 777.4,648.5 770.4,652.5" fill="#1b4560" stroke="#0f2a4f" stroke-width="0.45" stroke-linejoin="round"/>
<polygon points="770.4,652.5 777.4,648.5 758.9,637.9 752.0,641.9" fill="#fbfbfb" stroke="#0f2a4f" stroke-width="0.45" stroke-linejoin="round"/>
<line x1="768.4" y1="660.8" x2="768.4" y2="652.6" stroke="#8d979e" stroke-width="0.35"/>
<line x1="766.3" y1="659.6" x2="766.3" y2="651.4" stroke="#8d979e" stroke-width="0.35"/>
<line x1="764.3" y1="658.4" x2="764.3" y2="650.2" stroke="#8d979e" stroke-width="0.35"/>
<line x1="762.2" y1="657.2" x2="762.2" y2="649.0" stroke="#8d979e" stroke-width="0.35"/>
<line x1="760.2" y1="656.0" x2="760.2" y2="647.8" stroke="#8d979e" stroke-width="0.35"/>
<line x1="758.1" y1="654.8" x2="758.1" y2="646.6" stroke="#8d979e" stroke-width="0.35"/>
<line x1="756.1" y1="653.7" x2="756.1" y2="645.5" stroke="#8d979e" stroke-width="0.35"/>
<line x1="754.0" y1="652.5" x2="754.0" y2="644.3" stroke="#8d979e" stroke-width="0.35"/>
<polygon points="756.3,641.3 758.9,639.8 762.4,641.8 759.8,643.3" fill="#4a929f" stroke="#0f2a4f" stroke-width="0.3" stroke-linejoin="round"/>
<polygon points="771.9,643.3 775.4,641.3 778.8,643.3 775.4,645.3" fill="#4a929f" stroke="#0f2a4f" stroke-width="0.3" stroke-linejoin="round"/>
<polygon points="793.4,728.6 832.9,708.3 846.0,715.0 822.0,729.2" fill="#d6d6d6"/>
<polygon points="847.4,700.2 885.8,678.0 899.0,685.5 861.0,707.5" fill="#d6d6d6"/>
<polygon points="847.4,700.2 827.0,688.4 827.0,665.4 847.4,677.2" fill="#dfe2e4" stroke="#0f2a4f" stroke-width="0.45" stroke-linejoin="round"/>
<polygon points="847.4,700.2 885.8,678.1 885.8,655.1 847.4,677.2" fill="#16305a" stroke="#0f2a4f" stroke-width="0.45" stroke-linejoin="round"/>
<polygon points="847.4,677.2 885.8,655.1 865.3,643.3 827.0,665.4" fill="#e9ebec" stroke="#0f2a4f" stroke-width="0.45" stroke-linejoin="round"/>
<line x1="849.7" y1="697.9" x2="849.7" y2="677.1" stroke="#6d83a5" stroke-width="0.55"/>
<line x1="851.9" y1="696.6" x2="851.9" y2="675.8" stroke="#6d83a5" stroke-width="0.55"/>
<line x1="854.2" y1="695.3" x2="854.2" y2="674.5" stroke="#6d83a5" stroke-width="0.55"/>
<line x1="856.4" y1="694.0" x2="856.4" y2="673.2" stroke="#6d83a5" stroke-width="0.55"/>
<line x1="858.7" y1="692.7" x2="858.7" y2="671.9" stroke="#6d83a5" stroke-width="0.55"/>
<line x1="860.9" y1="691.4" x2="860.9" y2="670.6" stroke="#6d83a5" stroke-width="0.55"/>
<line x1="863.2" y1="690.1" x2="863.2" y2="669.3" stroke="#6d83a5" stroke-width="0.55"/>
<line x1="865.5" y1="688.8" x2="865.5" y2="668.0" stroke="#6d83a5" stroke-width="0.55"/>
<line x1="867.7" y1="687.5" x2="867.7" y2="666.7" stroke="#6d83a5" stroke-width="0.55"/>
<line x1="870.0" y1="686.2" x2="870.0" y2="665.4" stroke="#6d83a5" stroke-width="0.55"/>
<line x1="872.2" y1="684.9" x2="872.2" y2="664.1" stroke="#6d83a5" stroke-width="0.55"/>
<line x1="874.5" y1="683.6" x2="874.5" y2="662.8" stroke="#6d83a5" stroke-width="0.55"/>
<line x1="876.7" y1="682.3" x2="876.7" y2="661.5" stroke="#6d83a5" stroke-width="0.55"/>
<line x1="879.0" y1="681.0" x2="879.0" y2="660.2" stroke="#6d83a5" stroke-width="0.55"/>
<line x1="881.3" y1="679.7" x2="881.3" y2="658.9" stroke="#6d83a5" stroke-width="0.55"/>
<line x1="883.5" y1="678.4" x2="883.5" y2="657.6" stroke="#6d83a5" stroke-width="0.55"/>
<line x1="849.1" y1="676.2" x2="828.7" y2="664.4" stroke="#7f8ea3" stroke-width="0.35"/>
<line x1="850.9" y1="675.2" x2="830.5" y2="663.4" stroke="#7f8ea3" stroke-width="0.35"/>
<line x1="852.6" y1="674.2" x2="832.2" y2="662.4" stroke="#7f8ea3" stroke-width="0.35"/>
<line x1="854.4" y1="673.2" x2="833.9" y2="661.4" stroke="#7f8ea3" stroke-width="0.35"/>
<line x1="856.1" y1="672.2" x2="835.7" y2="660.4" stroke="#7f8ea3" stroke-width="0.35"/>
<line x1="857.9" y1="671.2" x2="837.4" y2="659.4" stroke="#7f8ea3" stroke-width="0.35"/>
<line x1="859.6" y1="670.2" x2="839.2" y2="658.4" stroke="#7f8ea3" stroke-width="0.35"/>
<line x1="861.4" y1="669.1" x2="840.9" y2="657.3" stroke="#7f8ea3" stroke-width="0.35"/>
<line x1="863.1" y1="668.1" x2="842.7" y2="656.3" stroke="#7f8ea3" stroke-width="0.35"/>
<line x1="864.8" y1="667.1" x2="844.4" y2="655.3" stroke="#7f8ea3" stroke-width="0.35"/>
<line x1="866.6" y1="666.1" x2="846.1" y2="654.3" stroke="#7f8ea3" stroke-width="0.35"/>
<line x1="868.3" y1="665.1" x2="847.9" y2="653.3" stroke="#7f8ea3" stroke-width="0.35"/>
<line x1="870.1" y1="664.1" x2="849.6" y2="652.3" stroke="#7f8ea3" stroke-width="0.35"/>
<line x1="871.8" y1="663.1" x2="851.4" y2="651.3" stroke="#7f8ea3" stroke-width="0.35"/>
<line x1="873.6" y1="662.1" x2="853.1" y2="650.3" stroke="#7f8ea3" stroke-width="0.35"/>
<line x1="875.3" y1="661.1" x2="854.9" y2="649.3" stroke="#7f8ea3" stroke-width="0.35"/>
<line x1="877.0" y1="660.1" x2="856.6" y2="648.3" stroke="#7f8ea3" stroke-width="0.35"/>
<line x1="878.8" y1="659.1" x2="858.4" y2="647.3" stroke="#7f8ea3" stroke-width="0.35"/>
<line x1="880.5" y1="658.1" x2="860.1" y2="646.3" stroke="#7f8ea3" stroke-width="0.35"/>
<line x1="882.3" y1="657.1" x2="861.8" y2="645.3" stroke="#7f8ea3" stroke-width="0.35"/>
<line x1="884.0" y1="656.1" x2="863.6" y2="644.3" stroke="#7f8ea3" stroke-width="0.35"/>
<line x1="836.4" y1="694.2" x2="836.4" y2="671.8" stroke="#22395d" stroke-width="0.5"/>
<polygon points="828.6,688.2 845.6,698.0 845.6,700.6 828.6,690.8" fill="#bfc5ca"/>
<polygon points="857.5,655.3 864.5,651.3 871.0,655.0 864.0,659.0" fill="#4a929f" stroke="#0f2a4f" stroke-width="0.4" stroke-linejoin="round"/>
<polygon points="793.4,728.6 773.5,717.1 773.5,695.7 793.4,707.2" fill="#f4f5f6" stroke="#0f2a4f" stroke-width="0.45" stroke-linejoin="round"/>
<polygon points="793.4,728.6 832.7,705.9 832.7,684.5 793.4,707.2" fill="#16305a" stroke="#0f2a4f" stroke-width="0.45" stroke-linejoin="round"/>
<polygon points="793.4,707.2 832.7,684.5 812.8,673.0 773.5,695.7" fill="#e9ebec" stroke="#0f2a4f" stroke-width="0.45" stroke-linejoin="round"/>
<line x1="795.7" y1="726.3" x2="795.7" y2="707.1" stroke="#6d83a5" stroke-width="0.55"/>
<line x1="798.0" y1="724.9" x2="798.0" y2="705.7" stroke="#6d83a5" stroke-width="0.55"/>
<line x1="800.3" y1="723.6" x2="800.3" y2="704.4" stroke="#6d83a5" stroke-width="0.55"/>
<line x1="802.7" y1="722.3" x2="802.7" y2="703.1" stroke="#6d83a5" stroke-width="0.55"/>
<line x1="805.0" y1="720.9" x2="805.0" y2="701.7" stroke="#6d83a5" stroke-width="0.55"/>
<line x1="807.3" y1="719.6" x2="807.3" y2="700.4" stroke="#6d83a5" stroke-width="0.55"/>
<line x1="809.6" y1="718.3" x2="809.6" y2="699.1" stroke="#6d83a5" stroke-width="0.55"/>
<line x1="811.9" y1="716.9" x2="811.9" y2="697.7" stroke="#6d83a5" stroke-width="0.55"/>
<line x1="814.2" y1="715.6" x2="814.2" y2="696.4" stroke="#6d83a5" stroke-width="0.55"/>
<line x1="816.5" y1="714.2" x2="816.5" y2="695.0" stroke="#6d83a5" stroke-width="0.55"/>
<line x1="818.8" y1="712.9" x2="818.8" y2="693.7" stroke="#6d83a5" stroke-width="0.55"/>
<line x1="821.2" y1="711.6" x2="821.2" y2="692.4" stroke="#6d83a5" stroke-width="0.55"/>
<line x1="823.5" y1="710.2" x2="823.5" y2="691.0" stroke="#6d83a5" stroke-width="0.55"/>
<line x1="825.8" y1="708.9" x2="825.8" y2="689.7" stroke="#6d83a5" stroke-width="0.55"/>
<line x1="828.1" y1="707.6" x2="828.1" y2="688.4" stroke="#6d83a5" stroke-width="0.55"/>
<line x1="830.4" y1="706.2" x2="830.4" y2="687.0" stroke="#6d83a5" stroke-width="0.55"/>
<line x1="795.2" y1="706.2" x2="775.3" y2="694.7" stroke="#7f8ea3" stroke-width="0.35"/>
<line x1="797.0" y1="705.1" x2="777.1" y2="693.6" stroke="#7f8ea3" stroke-width="0.35"/>
<line x1="798.8" y1="704.1" x2="778.8" y2="692.6" stroke="#7f8ea3" stroke-width="0.35"/>
<line x1="800.5" y1="703.1" x2="780.6" y2="691.6" stroke="#7f8ea3" stroke-width="0.35"/>
<line x1="802.3" y1="702.0" x2="782.4" y2="690.5" stroke="#7f8ea3" stroke-width="0.35"/>
<line x1="804.1" y1="701.0" x2="784.2" y2="689.5" stroke="#7f8ea3" stroke-width="0.35"/>
<line x1="805.9" y1="700.0" x2="786.0" y2="688.5" stroke="#7f8ea3" stroke-width="0.35"/>
<line x1="807.7" y1="698.9" x2="787.8" y2="687.4" stroke="#7f8ea3" stroke-width="0.35"/>
<line x1="809.5" y1="697.9" x2="789.6" y2="686.4" stroke="#7f8ea3" stroke-width="0.35"/>
<line x1="811.3" y1="696.9" x2="791.4" y2="685.4" stroke="#7f8ea3" stroke-width="0.35"/>
<line x1="813.1" y1="695.9" x2="793.1" y2="684.4" stroke="#7f8ea3" stroke-width="0.35"/>
<line x1="814.8" y1="694.8" x2="794.9" y2="683.3" stroke="#7f8ea3" stroke-width="0.35"/>
<line x1="816.6" y1="693.8" x2="796.7" y2="682.3" stroke="#7f8ea3" stroke-width="0.35"/>
<line x1="818.4" y1="692.8" x2="798.5" y2="681.3" stroke="#7f8ea3" stroke-width="0.35"/>
<line x1="820.2" y1="691.7" x2="800.3" y2="680.2" stroke="#7f8ea3" stroke-width="0.35"/>
<line x1="822.0" y1="690.7" x2="802.1" y2="679.2" stroke="#7f8ea3" stroke-width="0.35"/>
<line x1="823.8" y1="689.7" x2="803.9" y2="678.2" stroke="#7f8ea3" stroke-width="0.35"/>
<line x1="825.6" y1="688.6" x2="805.6" y2="677.1" stroke="#7f8ea3" stroke-width="0.35"/>
<line x1="827.4" y1="687.6" x2="807.4" y2="676.1" stroke="#7f8ea3" stroke-width="0.35"/>
<line x1="829.1" y1="686.6" x2="809.2" y2="675.1" stroke="#7f8ea3" stroke-width="0.35"/>
<line x1="830.9" y1="685.5" x2="811.0" y2="674.0" stroke="#7f8ea3" stroke-width="0.35"/>
<polygon points="791.6,726.0 775.4,716.6 775.4,700.4 791.6,709.8" fill="#10294d"/>
<polygon points="791.6,726.0 775.4,716.6 781.0,714.2 791.6,720.4" fill="#cfd4d8"/>
<polygon points="782.0,708.0 788.0,711.5 788.0,718.0 782.0,714.5" fill="#4a929f" stroke="#0f2a4f" stroke-width="0.3" stroke-linejoin="round"/>
<polygon points="804.0,684.6 811.0,680.6 817.6,684.4 810.6,688.4" fill="#4a929f" stroke="#0f2a4f" stroke-width="0.4" stroke-linejoin="round"/>
<polygon points="735.0,719.2 727.7,715.0 727.7,707.3 735.0,711.5" fill="#5a9eaa" stroke="#0f2a4f" stroke-width="0.4" stroke-linejoin="round"/>
<polygon points="735.0,719.2 742.3,715.0 742.3,707.3 735.0,711.5" fill="#0f2a4c" stroke="#0f2a4f" stroke-width="0.4" stroke-linejoin="round"/>
<polygon points="735.0,711.5 742.3,707.3 735.0,703.1 727.7,707.3" fill="#93c5cb" stroke="#0f2a4f" stroke-width="0.4" stroke-linejoin="round"/>
<rect x="738.8" y="714.6" width="1.6" height="1.2" fill="#cfe3e6"/>
<polygon points="748.9,723.2 741.6,719.0 741.6,711.3 748.9,715.5" fill="#5a9eaa" stroke="#0f2a4f" stroke-width="0.4" stroke-linejoin="round"/>
<polygon points="748.9,723.2 756.2,719.0 756.2,711.3 748.9,715.5" fill="#0f2a4c" stroke="#0f2a4f" stroke-width="0.4" stroke-linejoin="round"/>
<polygon points="748.9,715.5 756.2,711.3 748.9,707.1 741.6,711.3" fill="#93c5cb" stroke="#0f2a4f" stroke-width="0.4" stroke-linejoin="round"/>
<rect x="752.7" y="718.6" width="1.6" height="1.2" fill="#cfe3e6"/>
<polygon points="921.0,664.0 913.0,659.4 913.0,650.9 921.0,655.5" fill="#5a9eaa" stroke="#0f2a4f" stroke-width="0.4" stroke-linejoin="round"/>
<polygon points="921.0,664.0 929.0,659.4 929.0,650.9 921.0,655.5" fill="#0f2a4c" stroke="#0f2a4f" stroke-width="0.4" stroke-linejoin="round"/>
<polygon points="921.0,655.5 929.0,650.9 921.0,646.3 913.0,650.9" fill="#93c5cb" stroke="#0f2a4f" stroke-width="0.4" stroke-linejoin="round"/>
<rect x="925.1" y="658.9" width="1.6" height="1.2" fill="#cfe3e6"/>
<polygon points="914.9,672.2 907.2,667.8 907.2,659.6 914.9,664.0" fill="#5a9eaa" stroke="#0f2a4f" stroke-width="0.4" stroke-linejoin="round"/>
<polygon points="914.9,672.2 922.6,667.8 922.6,659.6 914.9,664.0" fill="#0f2a4c" stroke="#0f2a4f" stroke-width="0.4" stroke-linejoin="round"/>
<polygon points="914.9,664.0 922.6,659.6 914.9,655.1 907.2,659.6" fill="#93c5cb" stroke="#0f2a4f" stroke-width="0.4" stroke-linejoin="round"/>
<rect x="918.9" y="667.3" width="1.6" height="1.2" fill="#cfe3e6"/>
<polygon points="887.2,704 900.7,696.6 914.2,704 900.7,711.6" fill="#f4f4f4" stroke="#1b3355" stroke-width="0.4"/>
<polygon points="887.2,704 900.7,711.6 914.2,704 914.2,706 900.7,713.6 887.2,706" fill="#c9ced2" stroke="#1b3355" stroke-width="0.35"/>
<polygon points="900.3,704.2 892.9,699.9 892.9,692.0 900.3,696.3" fill="#5a9eaa" stroke="#0f2a4f" stroke-width="0.4" stroke-linejoin="round"/>
<polygon points="900.3,704.2 907.7,699.9 907.7,692.0 900.3,696.3" fill="#0f2a4c" stroke="#0f2a4f" stroke-width="0.4" stroke-linejoin="round"/>
<polygon points="900.3,696.3 907.7,692.0 900.3,687.7 892.9,692.0" fill="#93c5cb" stroke="#0f2a4f" stroke-width="0.4" stroke-linejoin="round"/>
<rect x="904.2" y="699.5" width="1.6" height="1.2" fill="#cfe3e6"/>
<polygon points="864.6,721.8 857.9,717.9 857.9,710.9 864.6,714.7" fill="#5a9eaa" stroke="#0f2a4f" stroke-width="0.4" stroke-linejoin="round"/>
<polygon points="864.6,721.8 871.3,717.9 871.3,710.9 864.6,714.7" fill="#0f2a4c" stroke="#0f2a4f" stroke-width="0.4" stroke-linejoin="round"/>
<polygon points="864.6,714.7 871.3,710.9 864.6,707.0 857.9,710.9" fill="#93c5cb" stroke="#0f2a4f" stroke-width="0.4" stroke-linejoin="round"/>
<rect x="868.1" y="717.6" width="1.6" height="1.2" fill="#cfe3e6"/>
<path d="M869.5,719.5 L869.5,702.5 Q869.6,700.3 872,699 M873.8,722 L873.8,705 Q873.9,702.8 876.6,701.3" fill="none" stroke="#1b3355" stroke-width="0.7"/>
<circle cx="874.5" cy="721.8" r="1.7" fill="#6aa6af" stroke="#1b3355" stroke-width="0.5"/>
<ellipse cx="877.5" cy="631.2" rx="9.5" ry="4.6" fill="#0b2346"/>
<path d="M864.7,627.8 V631 A10.2,5 0 0 0 885.1,631 V627.8 Z" fill="#2c6f7f" stroke="#0f2a4f" stroke-width="0.4"/>
<rect x="873.6" y="632" width="2.2" height="4" fill="#8cc4ca"/>
<ellipse cx="874.9" cy="627.8" rx="10.2" ry="5" fill="#8cc4ca" stroke="#0f2a4f" stroke-width="0.4"/>
<ellipse cx="874.7" cy="626.6" rx="6.6" ry="3.4" fill="#4f97a3" stroke="#1d5565" stroke-width="0.4"/>
<path d="M871,625.4 Q874.9,621.5 874.9,618 Q874.9,621.5 878.6,625.4 Z" fill="#4f97a3"/>
<line x1="874.9" y1="622" x2="874.9" y2="593.5" stroke="#5fa5af" stroke-width="1.1"/>
<path d="M876.4,595 Q880,604.5 886.1,604.3 Q888,604.2 889.1,602.9 M893,604.8 Q896.5,614.4 902.7,614.6 Q906,614.6 908.6,613.4" fill="none" stroke="#4f9aa5" stroke-width="0.8"/>
<polygon points="909.6,616.0 925.0,623.4 925.0,646.8 922.8,643.4" fill="#e0e2e4" stroke="#1b3355" stroke-width="0.5" stroke-linejoin="round"/>
<polygon points="860.7,581.4 871.5,586.7 925.0,617.5 925.0,623.4 887.1,600.4" fill="#d7dadd" stroke="#1b3355" stroke-width="0.5" stroke-linejoin="round"/>
<polygon points="871.5,586.7 878.3,582.8 925.0,608.2 925.0,617.5" fill="#f3f4f5" stroke="#1b3355" stroke-width="0.5" stroke-linejoin="round"/>
<path d="M886.5,594.6 L892.5,590.8 M888.6,595.8 L894.6,592 M911.5,609 L917.5,605.2 M913.6,610.2 L919.6,606.4" stroke="#1b3355" stroke-width="0.4" fill="none"/>
<polygon points="903.2,603.4 909.0,600.2 915.4,603.7 909.6,606.9" fill="#c9cdd1" stroke="#1b3355" stroke-width="0.35" stroke-linejoin="round"/>
<polygon points="858.3,571.1 864.6,566.9 871.0,570.6 873.4,573.6 877.8,582.8 871.5,586.7 860.7,580.9 858.3,577.9" fill="#e9ebed" stroke="#1b3355" stroke-width="0.5" stroke-linejoin="round"/>
<polygon points="858.3,571.1 864.6,566.9 871.0,570.6 864.8,574.6" fill="#d5d8db" stroke="#1b3355" stroke-width="0.4" stroke-linejoin="round"/>
<polygon points="866.6,576.0 873.0,572.6 877.8,582.8 871.1,586.3" fill="#132d52" stroke="#0f2a4f" stroke-width="0.4" stroke-linejoin="round"/>
<circle cx="871.6" cy="579.9" r="1.7" fill="#7fb9c0" stroke="#cfe3e6" stroke-width="0.4"/>
<line x1="872.5" y1="579.6" x2="925" y2="565.7" stroke="#4f9aa5" stroke-width="1"/>
</g>
<defs><linearGradient id="shv" x1="0" y1="0" x2="0" y2="1"><stop offset="0" stop-color="#c9c9c9"/><stop offset="0.07" stop-color="#959595"/><stop offset="0.2" stop-color="#a2a2a2"/><stop offset="0.5" stop-color="#d3d3d3"/><stop offset="0.8" stop-color="#f1f1f1"/><stop offset="1" stop-color="#ffffff"/></linearGradient><linearGradient id="shh" x1="0" y1="0" x2="1" y2="0"><stop offset="0" stop-color="#fff" stop-opacity="0.3"/><stop offset="0.12" stop-color="#fff" stop-opacity="0"/><stop offset="1" stop-color="#fff" stop-opacity="0"/></linearGradient></defs>
<rect x="0" y="731.6" width="923" height="14.5" fill="url(#shv)"/>
<rect x="0" y="731.6" width="923" height="14.5" fill="url(#shh)"/>
<text x="313.8" y="848.8" font-size="9.7" fill="#b4b4b4" textLength="297.8" lengthAdjust="spacingAndGlyphs">ANIP - Associação Nacional da Indústria de Pneumáticos ©2020</text>
<text x="241.2" y="887.3" font-size="14.4" fill="#1f2f68" textLength="484.2" lengthAdjust="spacingAndGlyphs">A Associação Nacional da Indústria de Pneumáticos (ANIP) representa a indústria</text>
<text x="336.2" y="907.8" font-size="14.4" fill="#1f2f68" textLength="281.5" lengthAdjust="spacingAndGlyphs">de pneus e câmaras de ar instalada no Brasil.</text>
<text x="278.9" y="953.2" font-size="31.4" fill="#3c84ab" font-weight="bold" textLength="311.3" lengthAdjust="spacingAndGlyphs" stroke="#3c84ab" stroke-width="0.9">WWW.ANIP.ORG.BR</text>
<g id="money91">
<polygon points="91.0,171.3 95.6,173.9 95.6,185.4 91.0,182.8" fill="#3f9a1c"/>
<polygon points="100.2,171.3 95.6,173.9 95.6,185.4 100.2,182.8" fill="#4aa821"/>
<polygon points="95.6,168.8 100.2,171.3 95.6,173.9 91.0,171.3" fill="#6cc431"/>
<polygon points="94.4,170.1 99.6,173.1 99.6,179.3 98.6,179.3 98.6,173.6 93.6,170.7" fill="#e6f3dc"/>
<polygon points="100.9,165.8 104.6,167.9 104.6,189.4 100.9,187.3" fill="#3f9a1c"/>
<polygon points="108.3,165.8 104.6,167.9 104.6,189.4 108.3,187.3" fill="#4aa821"/>
<polygon points="104.6,163.8 108.3,165.8 104.6,167.9 100.9,165.8" fill="#6cc431"/>
<polygon points="104.8,169.0 109.3,171.4 109.3,192.9 104.8,190.5" fill="#3f9a1c"/>
<polygon points="113.8,169.0 109.3,171.4 109.3,192.9 113.8,190.5" fill="#4aa821"/>
<polygon points="109.3,166.5 113.8,169.0 109.3,171.4 104.8,169.0" fill="#6cc431"/>
<polygon points="108.2,165.8 109.6,166.6 106.0,168.9 106.0,179.0 104.9,179.0 104.9,168.1" fill="#e6f3dc"/>
<polygon points="93.9,181.3 99.8,184.6 99.8,195.2 93.9,191.9" fill="#3f9a1c"/>
<polygon points="105.7,181.3 99.8,184.6 99.8,195.2 105.7,191.9" fill="#4aa821"/>
<polygon points="99.8,178.1 105.7,181.3 99.8,184.6 93.9,181.3" fill="#6cc431"/>
<polygon points="101.2,183.0 102.5,182.3 102.5,192.8 101.2,193.5" fill="#e6f3dc"/>
</g>
<g id="tires">
<path d="M517.2,168.5 A9.9,5.6 0 0 1 537,168.5 V185.8 A9.9,5.6 0 0 1 517.2,185.8 Z" fill="#181818"/>
<ellipse cx="527.1" cy="168.6" rx="7.6" ry="4.1" fill="#0e0e0e" stroke="#262626" stroke-width="0.7"/>
<path d="M517.5,176.6 A9.6,4.6 0 0 0 536.8,176.6" fill="none" stroke="#2b2b2b" stroke-width="0.6"/>
<path d="M517.5,182.2 A9.6,4.6 0 0 0 536.8,182.2" fill="none" stroke="#2b2b2b" stroke-width="0.6"/>
<ellipse cx="518.8" cy="184.6" rx="8.2" ry="10.6" transform="rotate(-22 518.8 184.6)" fill="#161616"/>
<ellipse cx="516.6" cy="185.6" rx="6.4" ry="9.6" transform="rotate(-22 516.6 185.6)" fill="#1a1a1a"/>
<ellipse cx="516.0" cy="185.9" rx="4.4" ry="7.6" transform="rotate(-22 516.0 185.9)" fill="#0f0f0f"/>
<polygon points="515.2,179.9 516.6,179.6 517.4,184.8 516.6,184.9" fill="#fff"/>
</g>
<g id="logo-f">
<defs><clipPath id="clip-f"><rect x="356" y="807.5" width="77.6" height="20"/></clipPath></defs>
<circle cx="377.0" cy="806" r="20" fill="#b9b9b9" stroke="#fff" stroke-width="0.0"/>
<circle cx="378.2" cy="806" r="10.00" fill="#fff"/>
<circle cx="396.2" cy="806" r="20" fill="#949494" stroke="#fff" stroke-width="0.0"/>
<circle cx="397.4" cy="806" r="10.00" fill="#fff"/>
<circle cx="415.4" cy="806" r="20" fill="#6d6d6d" stroke="#fff" stroke-width="0.0"/>
<circle cx="416.6" cy="806" r="10.00" fill="#fff"/>
<rect x="357" y="809.2" width="60.4" height="0.45" fill="#fff" opacity="0.85"/>
<rect x="357" y="812.1" width="60.4" height="0.59" fill="#fff" opacity="0.85"/>
<rect x="357" y="815.0" width="60.4" height="0.73" fill="#fff" opacity="0.85"/>
<rect x="357" y="817.9" width="60.4" height="0.87" fill="#fff" opacity="0.85"/>
<rect x="357" y="820.8" width="60.4" height="1.01" fill="#fff" opacity="0.85"/>
<rect x="357" y="823.7" width="60.4" height="1.15" fill="#fff" opacity="0.85"/>
<circle cx="434.6" cy="806" r="20" fill="#1d1716" stroke="#fff" stroke-width="0.0"/>
<circle cx="429.4" cy="806" r="9.60" fill="#fff"/>
<circle cx="429.4" cy="806" r="8.45" fill="none" stroke="#1d1716" stroke-width="1.25"/>
<line x1="429.4" y1="806" x2="431.0" y2="798.0" stroke="#1d1716" stroke-width="2.88"/>
<line x1="429.4" y1="806" x2="437.5" y2="805.1" stroke="#1d1716" stroke-width="2.88"/>
<line x1="429.4" y1="806" x2="432.8" y2="813.4" stroke="#1d1716" stroke-width="2.88"/>
<line x1="429.4" y1="806" x2="423.4" y2="811.5" stroke="#1d1716" stroke-width="2.88"/>
<line x1="429.4" y1="806" x2="422.3" y2="802.0" stroke="#1d1716" stroke-width="2.88"/>
<circle cx="429.4" cy="806" r="2.88" fill="#1d1716"/>
<text transform="translate(436.5 822.4) skewX(-13)" x="0" y="0" font-family="'DejaVu Serif', 'Liberation Serif', serif" font-size="43" font-weight="bold" fill="#1b50a7" stroke="#1b50a7" stroke-width="2.2" stroke-linejoin="round" textLength="126" lengthAdjust="spacingAndGlyphs">ANIP</text>
</g>
<text x="432" y="831.2" font-size="4.3" fill="#2a2a2a" font-weight="bold" textLength="119" lengthAdjust="spacingAndGlyphs">ASSOCIAÇÃO NACIONAL DA INDÚSTRIA DE PNEUMÁTICOS</text>
<g id="logo-h">
<defs><clipPath id="clip-h"><rect x="801.5999999999999" y="14.6" width="26.55" height="7.2"/></clipPath></defs>
<circle cx="809.8" cy="13.1" r="7.2" fill="#ffffff" stroke="#22326e" stroke-width="0.7"/>
<circle cx="810.2" cy="13.1" r="3.60" fill="#22326e"/>
<circle cx="816.2" cy="13.1" r="7.2" fill="#f2f3f7" stroke="#22326e" stroke-width="0.7"/>
<circle cx="816.7" cy="13.1" r="3.60" fill="#22326e"/>
<circle cx="822.7" cy="13.1" r="7.2" fill="#e4e6ee" stroke="#22326e" stroke-width="0.7"/>
<circle cx="823.1" cy="13.1" r="3.60" fill="#22326e"/>
<circle cx="829.1" cy="13.1" r="7.2" fill="#ffffff" stroke="#22326e" stroke-width="0.7"/>
<circle cx="827.3" cy="13.1" r="3.46" fill="#22326e"/>
<circle cx="827.3" cy="13.1" r="3.04" fill="none" stroke="#ffffff" stroke-width="0.45"/>
<line x1="827.3" y1="13.1" x2="827.9" y2="10.2" stroke="#ffffff" stroke-width="1.04"/>
<line x1="827.3" y1="13.1" x2="830.2" y2="12.8" stroke="#ffffff" stroke-width="1.04"/>
<line x1="827.3" y1="13.1" x2="828.5" y2="15.8" stroke="#ffffff" stroke-width="1.04"/>
<line x1="827.3" y1="13.1" x2="825.1" y2="15.1" stroke="#ffffff" stroke-width="1.04"/>
<line x1="827.3" y1="13.1" x2="824.7" y2="11.7" stroke="#ffffff" stroke-width="1.04"/>
<circle cx="827.3" cy="13.1" r="1.04" fill="#ffffff"/>
<text transform="translate(833.2 19.4) skewX(-13)" x="0" y="0" font-family="'DejaVu Serif', 'Liberation Serif', serif" font-size="16.2" font-weight="bold" fill="#ffffff" stroke="#ffffff" stroke-width="1.2" stroke-linejoin="round" textLength="48.0" lengthAdjust="spacingAndGlyphs">ANIP</text>
</g>
</svg>
</body></html>
